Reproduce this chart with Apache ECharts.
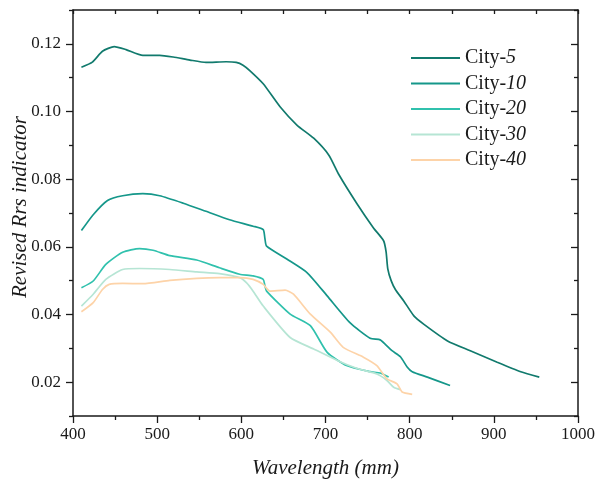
<!DOCTYPE html>
<html>
<head>
<meta charset="utf-8">
<script src="https://cdn.jsdelivr.net/npm/echarts@6/dist/echarts.min.js"></script>
<style>
html, body { margin: 0; padding: 0; background: #fff; }
#main { width: 608px; height: 483px; }
</style>
</head>
<body>
<div id="main"></div>
<script>
var seriesNames = ['City-5', 'City-10', 'City-20', 'City-30', 'City-40'];
var colors = ['#117a6d', '#15978a', '#30c1ad', '#b6e5d4', '#fdd3a8'];

var wl5 = [410, 423, 435, 449, 463, 483, 503, 519, 539, 558, 582, 594, 602, 610, 626, 646, 666, 686, 704, 716, 737, 757, 769, 772, 774, 778, 783, 793, 805, 817, 845, 872, 904, 932, 954];
var rrs5 = [0.1131, 0.1146, 0.1178, 0.1192, 0.1183, 0.1166, 0.1166, 0.1161, 0.1152, 0.1145, 0.1147, 0.1145, 0.1137, 0.1121, 0.1082, 0.1014, 0.0960, 0.0921, 0.0871, 0.0813, 0.0729, 0.0656, 0.0618, 0.0585, 0.0535, 0.0500, 0.0474, 0.0440, 0.0396, 0.0371, 0.0322, 0.0293, 0.0259, 0.0231, 0.0215];

var wl10 = [410, 424, 441, 459, 483, 503, 531, 558, 586, 614, 626, 628, 630, 654, 678, 702, 729, 753, 765, 771, 779, 789, 797, 803, 821, 848];
var rrs10 = [0.0648, 0.0695, 0.0737, 0.0751, 0.0757, 0.0751, 0.0729, 0.0705, 0.0680, 0.0661, 0.0651, 0.0625, 0.0602, 0.0564, 0.0524, 0.0455, 0.0376, 0.0330, 0.0325, 0.0312, 0.0293, 0.0275, 0.0245, 0.0231, 0.0215, 0.0190];

var wl20 = [410, 424, 439, 459, 479, 495, 515, 547, 574, 598, 614, 626, 628, 630, 658, 682, 702, 725, 753, 765, 775];
var rrs20 = [0.0479, 0.0499, 0.0548, 0.0584, 0.0595, 0.0590, 0.0574, 0.0561, 0.0538, 0.0519, 0.0514, 0.0504, 0.0485, 0.0469, 0.0401, 0.0367, 0.0288, 0.0249, 0.0231, 0.0227, 0.0215];

var wl30 = [410, 424, 439, 459, 479, 515, 547, 574, 598, 606, 614, 626, 658, 686, 714, 737, 761, 773, 781, 789];
var rrs30 = [0.0425, 0.0460, 0.0504, 0.0533, 0.0536, 0.0533, 0.0526, 0.0521, 0.0509, 0.0494, 0.0469, 0.0425, 0.0332, 0.0298, 0.0264, 0.0241, 0.0224, 0.0205, 0.0185, 0.0178];

var wl40 = [410, 424, 435, 443, 459, 483, 515, 547, 574, 598, 614, 626, 634, 652, 662, 682, 706, 721, 745, 761, 773, 785, 791, 803];
var rrs40 = [0.0408, 0.0435, 0.0474, 0.0489, 0.0492, 0.0491, 0.0501, 0.0507, 0.0509, 0.0509, 0.0504, 0.0489, 0.0469, 0.0472, 0.0460, 0.0401, 0.0347, 0.0303, 0.0274, 0.0249, 0.0210, 0.0195, 0.0171, 0.0164];

var yMajorTicks = [0.02, 0.04, 0.06, 0.08, 0.10, 0.12];
var yMinorTicks = [0.01, 0.03, 0.05, 0.07, 0.09, 0.11, 0.13];

var allX = [wl5, wl10, wl20, wl30, wl40];
var allY = [rrs5, rrs10, rrs20, rrs30, rrs40];

function pairs(xs, ys) {
    var out = [];
    for (var i = 0; i < xs.length; i++) out.push([xs[i], ys[i]]);
    return out;
}

var font = 'Liberation Serif';
var ink = '#1a1a1a';
var axisLine = { show: true, lineStyle: { color: ink, width: 1.5 } };
var tickStyle = { color: ink, width: 1.3 };

var dom = document.getElementById('main');
var myChart = echarts.init(dom, null, { renderer: 'canvas' });

var series = seriesNames.map(function (name, i) {
    return {
        name: name,
        type: 'line',
        symbol: 'none',
        smooth: 0.2,
        color: colors[i],
        lineStyle: { width: 1.7, color: colors[i] },
        data: pairs(allX[i], allY[i])
    };
});

var option = {
    animation: false,
    backgroundColor: '#fff',
    grid: { left: 73, right: 30, top: 10, bottom: 67, outerBoundsMode: 'none' },
    legend: {
        orient: 'vertical',
        left: 411,
        top: 48,
        padding: 0,
        icon: 'rect',
        itemWidth: 49,
        itemHeight: 2,
        itemGap: 5.5,
        data: seriesNames,
        formatter: function (name) {
            var p = name.split('-');
            return p[0] + '-{n|' + p[1] + '}';
        },
        textStyle: {
            fontFamily: font, fontSize: 20, lineHeight: 20, color: ink,
            rich: { n: { fontFamily: font, fontSize: 20, lineHeight: 20, fontStyle: 'italic', color: ink } }
        }
    },
    xAxis: [
        {
            type: 'value', position: 'bottom', min: 400, max: 1000, interval: 100,
            axisLine: axisLine,
            axisTick: { show: true, length: 7, lineStyle: tickStyle },
            minorTick: { show: true, splitNumber: 2, length: 4, lineStyle: tickStyle },
            axisLabel: {
                fontFamily: font, fontSize: 17, color: ink, margin: 10,
                formatter: function (v) { return String(v); }
            },
            splitLine: { show: false },
            minorSplitLine: { show: false },
            name: 'Wavelength (mm)',
            nameLocation: 'middle',
            nameGap: 42,
            nameTextStyle: { fontFamily: font, fontSize: 21, fontStyle: 'italic', color: ink }
        },
        {
            type: 'value', position: 'top', min: 400, max: 1000, interval: 50,
            axisLine: axisLine,
            axisTick: { show: true, inside: true, length: 4, lineStyle: tickStyle },
            axisLabel: { show: false },
            splitLine: { show: false }
        }
    ],
    yAxis: [
        {
            type: 'value', position: 'left', min: 0.01, max: 0.13, interval: 0.01,
            axisLine: axisLine,
            axisTick: { show: true, length: 7, lineStyle: tickStyle, customValues: yMajorTicks },
            axisLabel: {
                fontFamily: font, fontSize: 17, color: ink, margin: 12,
                customValues: yMajorTicks,
                formatter: function (v) { return v.toFixed(2); }
            },
            splitLine: { show: false },
            name: 'Revised Rrs indicator',
            nameLocation: 'middle',
            nameMoveOverlap: false,
            nameGap: 42,
            nameTextStyle: {
                fontFamily: font, fontSize: 21, fontStyle: 'italic', color: ink,
                padding: [0, 0, 0, 12]
            }
        },
        {
            type: 'value', position: 'left', min: 0.01, max: 0.13, interval: 0.01,
            axisLine: { show: false },
            axisTick: { show: true, length: 4, lineStyle: tickStyle, customValues: yMinorTicks },
            axisLabel: { show: false },
            splitLine: { show: false }
        },
        {
            type: 'value', position: 'right', min: 0.01, max: 0.13, interval: 0.01,
            axisLine: axisLine,
            axisTick: { show: true, inside: true, length: 7, lineStyle: tickStyle, customValues: yMajorTicks },
            axisLabel: { show: false },
            splitLine: { show: false }
        },
        {
            type: 'value', position: 'right', min: 0.01, max: 0.13, interval: 0.01,
            axisLine: { show: false },
            axisTick: { show: true, inside: true, length: 4, lineStyle: tickStyle, customValues: yMinorTicks },
            axisLabel: { show: false },
            splitLine: { show: false }
        }
    ],
    series: series
};

if (option && typeof option === 'object') {
    myChart.setOption(option);
}

window.addEventListener('resize', myChart.resize);
</script>
</body>
</html>
